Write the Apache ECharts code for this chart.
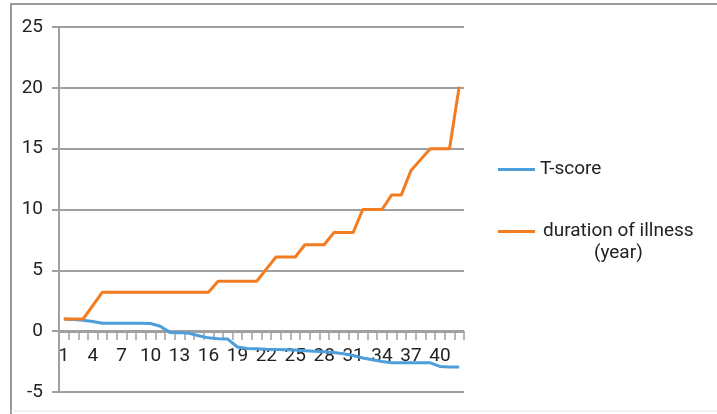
<!DOCTYPE html>
<html>
<head>
<meta charset="utf-8">
<script src="https://cdn.jsdelivr.net/npm/echarts@6/dist/echarts.min.js"></script>
<style>
html,body{margin:0;padding:0;background:#fff;}
#chart{width:717px;height:414px;}
</style>
</head>
<body>
<div id="chart"></div>
<script>
var categories = ['1','2','3','4','5','6','7','8','9','10','11','12','13','14','15','16','17','18','19','20','21','22','23','24','25','26','27','28','29','30','31','32','33','34','35','36','37','38','39','40','41','42'];
var tScore = [1.0,0.95,0.9,0.8,0.65,0.65,0.65,0.65,0.65,0.63,0.4,-0.1,-0.12,-0.18,-0.38,-0.55,-0.62,-0.65,-1.3,-1.42,-1.45,-1.48,-1.5,-1.52,-1.55,-1.6,-1.65,-1.7,-1.75,-1.85,-2.0,-2.2,-2.35,-2.5,-2.6,-2.6,-2.6,-2.6,-2.6,-2.9,-2.95,-2.95];
var duration = [1,1,1,2.1,3.2,3.2,3.2,3.2,3.2,3.2,3.2,3.2,3.2,3.2,3.2,3.2,4.1,4.1,4.1,4.1,4.1,5.1,6.1,6.1,6.1,7.1,7.1,7.1,8.1,8.1,8.1,10,10,10,11.2,11.2,13.2,14.1,15,15,15,20.1];
var seriesNames = ['T-score', 'duration of illness\n(year)'];
var yTicks = {min: -5, max: 25, interval: 5};

var gray = '#a0a0a0';
var txt = '#222';
var font = 'Roboto';
var chart = echarts.init(document.getElementById('chart'));
chart.setOption({
  animation: false,
  textStyle: {fontFamily: font},
  graphic: [
    {type: 'polyline', shape: {points: [[11, 414], [11, 4], [717, 4]]}, style: {stroke: '#9a9a9a', lineWidth: 2, fill: null}},
    {type: 'line', shape: {x1: 11, y1: 411, x2: 717, y2: 411}, style: {stroke: '#e4e4e4', lineWidth: 1}}
  ],
  grid: {left: 59, right: 253, top: 27, bottom: 22, containLabel: false, outerBoundsMode: 'none'},
  legend: [
    {
      data: [seriesNames[0]], left: 498, top: 160, padding: 0, icon: 'rect', itemWidth: 37, itemHeight: 3, itemGap: 0,
      textStyle: {fontSize: 19, color: txt, fontFamily: font}
    },
    {
      data: [seriesNames[1]], left: 498, top: 222, padding: 0, icon: 'rect', itemWidth: 37, itemHeight: 3, itemGap: 0,
      formatter: function (n) { var p = n.split('\n'); return '{a|' + p[0] + '}\n{a|' + p[1] + '}'; },
      textStyle: {fontSize: 19, color: txt, fontFamily: font, padding: [22, 0, 0, 3],
        rich: {a: {fontSize: 19, color: txt, fontFamily: font, lineHeight: 22, align: 'center'}}}
    }
  ],
  xAxis: {
    type: 'category', data: categories, boundaryGap: true, offset: -60,
    axisLine: {onZero: false, lineStyle: {color: gray, width: 2}},
    axisTick: {show: true, interval: 0, length: 8, lineStyle: {color: gray, width: 1.5}},
    axisLabel: {interval: 2, fontSize: 19, color: txt, margin: 15, fontFamily: font},
    splitLine: {show: false}
  },
  yAxis: {
    type: 'value', min: yTicks.min, max: yTicks.max, interval: yTicks.interval,
    axisLine: {show: true, lineStyle: {color: gray, width: 2}},
    axisTick: {show: true, length: 7, lineStyle: {color: gray, width: 2}},
    axisLabel: {fontSize: 19, color: txt, margin: 16, fontFamily: font},
    splitLine: {show: true, lineStyle: {color: gray, width: 2}}
  },
  series: [
    {name: seriesNames[0], type: 'line', data: tScore, symbol: 'none', lineStyle: {color: '#4d9fdc', width: 3}, itemStyle: {color: '#4d9fdc'}},
    {name: seriesNames[1], type: 'line', data: duration, symbol: 'none', lineStyle: {color: '#f47c20', width: 3}, itemStyle: {color: '#f47c20'}}
  ]
});
</script>
</body>
</html>
